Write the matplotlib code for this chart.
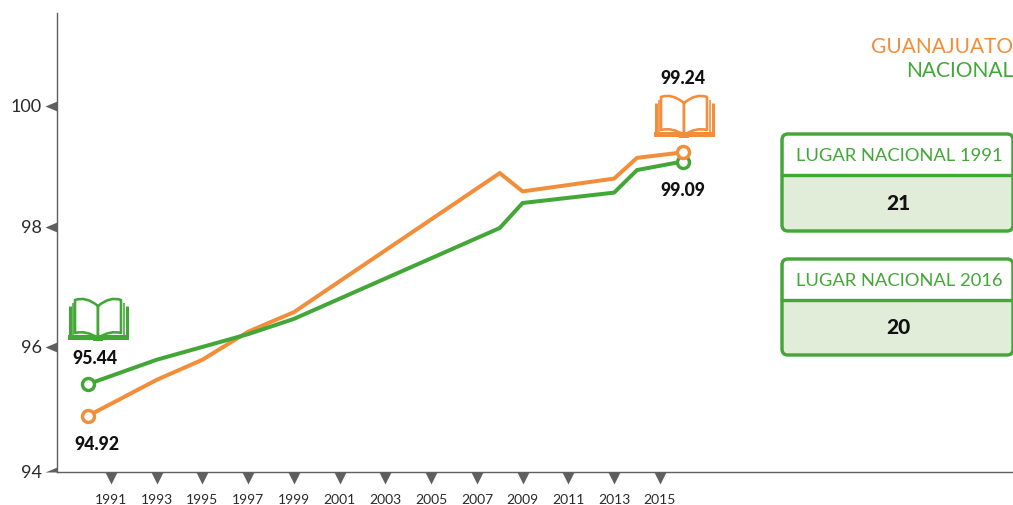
import matplotlib
matplotlib.use("Agg")
import matplotlib.pyplot as plt
from matplotlib.path import Path
from matplotlib.patches import PathPatch, FancyBboxPatch, Rectangle

W, H = 1013, 505
ORANGE = "#F28E3A"
GREEN = "#43A738"
GRAY = "#5F5F5F"
PALE = "#E2EDD9"
plt.rcParams["font.family"] = ["Lato", "DejaVu Sans"]

years_gto = [1990, 1993, 1995, 1997, 1999, 2008, 2009, 2013, 2014, 2016]
guanajuato = [94.92, 95.51, 95.84, 96.30, 96.62, 98.90, 98.60, 98.81, 99.15, 99.24]
years_nac = [1990, 1993, 1995, 1997, 1999, 2008, 2009, 2013, 2014, 2016]
nacional = [95.44, 95.84, 96.05, 96.26, 96.51, 98.00, 98.41, 98.58, 98.95, 99.09]
x_ticks = list(range(1991, 2016, 2))
y_ticks = [94, 96.05, 98.02, 100]
y_labels = ["94", "96", "98", "100"]

fig = plt.figure(figsize=(W / 100, H / 100), dpi=100, facecolor="white")
px = 72 / 100  # points per pixel

ax = fig.add_axes([57 / W, (H - 472) / H, (W - 57) / W, (472 - 13) / H])
ax.set_xlim(1990 - 31 / 22.875, 1990 + (W - 88) / 22.875)
ax.set_ylim(94, 100 + 93 / 61)
ax.patch.set_alpha(0)
for s in ("top", "right"):
    ax.spines[s].set_visible(False)
for s in ("left", "bottom"):
    ax.spines[s].set_color(GRAY)
    ax.spines[s].set_linewidth(1.4 * px)

ax.plot(years_gto, guanajuato, color=ORANGE, lw=4 * px, solid_joinstyle="miter", zorder=3)
ax.plot(years_nac, nacional, color=GREEN, lw=4 * px, solid_joinstyle="miter", zorder=3)
for xs, ys, c in ((years_nac, nacional, GREEN), (years_gto, guanajuato, ORANGE)):
    ax.plot([xs[0], xs[-1]], [ys[0], ys[-1]], ls="none", marker="o", ms=12 * px,
            mfc="white", mec=c, mew=3.4 * px, zorder=4)

ax.set_xticks(x_ticks)
ax.set_xticklabels([str(y) for y in x_ticks], fontsize=10, color="#2A2A2A")
ax.set_yticks(y_ticks)
ax.set_yticklabels(y_labels, fontsize=13, color="#2A2A2A")
ax.tick_params(axis="x", pad=16, length=0)
ax.tick_params(axis="y", pad=11, length=0)

down = Path([(-6, 0), (6, 0), (0, -12), (-6, 0)], closed=True)
left = Path([(0, -5), (0, 5), (-12, 0), (0, -5)], closed=True)
half = Path([(0, 0), (0, 5), (-12, 0), (0, 0)], closed=True)
for t in ax.xaxis.get_major_ticks():
    t.tick1line.set_marker(down)
    t.tick1line.set_markersize(24 * px)
    t.tick1line.set_markerfacecolor(GRAY)
    t.tick1line.set_markeredgecolor("none")
for i, t in enumerate(ax.yaxis.get_major_ticks()):
    t.tick1line.set_marker(half if i == 0 else left)
    t.tick1line.set_markersize(24 * px)
    t.tick1line.set_markerfacecolor(GRAY)
    t.tick1line.set_markeredgecolor("none")

ov = fig.add_axes([0, 0, 1, 1])
ov.set_xlim(0, W)
ov.set_ylim(H, 0)
ov.axis("off")
ov.patch.set_alpha(0)


def book(x0, y0, c):
    """Open-book icon, 60x42 px, top-left at (x0, y0)."""
    M, L, C = Path.MOVETO, Path.LINETO, Path.CURVE3
    lw = 2.6 * px
    v = [(x0 + 1.5, y0 + 8), (x0 + 1.5, y0 + 40), (x0 + 58.5, y0 + 40), (x0 + 58.5, y0 + 8)]
    ov.add_patch(PathPatch(Path(v, [M, L, L, L]), fc="none", ec=c, lw=3 * px, joinstyle="miter"))
    for a in (4.5, 55.5):
        v = [(x0 + a, y0 + 5), (x0 + a, y0 + 38)]
        ov.add_patch(PathPatch(Path(v, [M, L]), fc="none", ec=c, lw=1.6 * px))
    for s in (-1, 1):
        cx = x0 + 30
        v = [(cx, y0 + 8), (cx + s * 12, y0 - 2), (cx + s * 23, y0 + 2),
             (cx + s * 23, y0 + 2), (cx + s * 23, y0 + 35),
             (cx + s * 12, y0 + 32), (cx, y0 + 40), (cx, y0 + 8)]
        ov.add_patch(PathPatch(Path(v, [M, C, C, L, L, C, C, L]),
                               fc="white", ec=c, lw=lw, joinstyle="round", zorder=3))
    ov.add_patch(Rectangle((x0, y0 + 37), 60, 5, fc=c, ec="none", zorder=4))
    ov.add_patch(Rectangle((x0 + 25, y0 + 39), 10, 3.5, fc=c, ec="none", zorder=4))


book(68, 298, GREEN)
book(654, 95, ORANGE)

vals = [("95.44", 95, 358), ("94.92", 97, 445), ("99.24", 683, 78.5), ("99.09", 683, 190.5)]
for s, x, y in vals:
    ov.text(x, y, s, ha="center", va="center", fontsize=12.7, fontweight="black", color="#111111")

ov.text(1013, 47, "GUANAJUATO", ha="right", va="center", fontsize=15, color=ORANGE)
ov.text(1013, 71, "NACIONAL", ha="right", va="center", fontsize=15, color=GREEN)

panels = [(134, 175, 231, "LUGAR NACIONAL 1991", "21", 899),
          (259, 300, 355, "LUGAR NACIONAL 2016", "20", 899)]
for top, mid, bot, title, value, cx in panels:
    ov.add_patch(FancyBboxPatch((782, top), 231, bot - top, boxstyle="round,pad=0,rounding_size=6",
                                fc=PALE, ec="none"))
    ov.add_patch(Rectangle((784, top + 1), 227, mid - top - 1, fc="white", ec="none"))
    ov.add_patch(FancyBboxPatch((782, top), 231, bot - top, boxstyle="round,pad=0,rounding_size=6",
                                fc="none", ec=GREEN, lw=3.4 * px))
    ov.plot([782, W - 1], [mid, mid], color=GREEN, lw=3.4 * px)
    ov.text(cx, (top + mid) / 2 + 1.5, title, ha="center", va="center", fontsize=13.2, color=GREEN)
    ov.text(cx - 1, (mid + bot) / 2 + 0.5, value, ha="center", va="center", fontsize=15,
            fontweight="black", color="#111111")

fig.savefig("out.png", dpi=100)
